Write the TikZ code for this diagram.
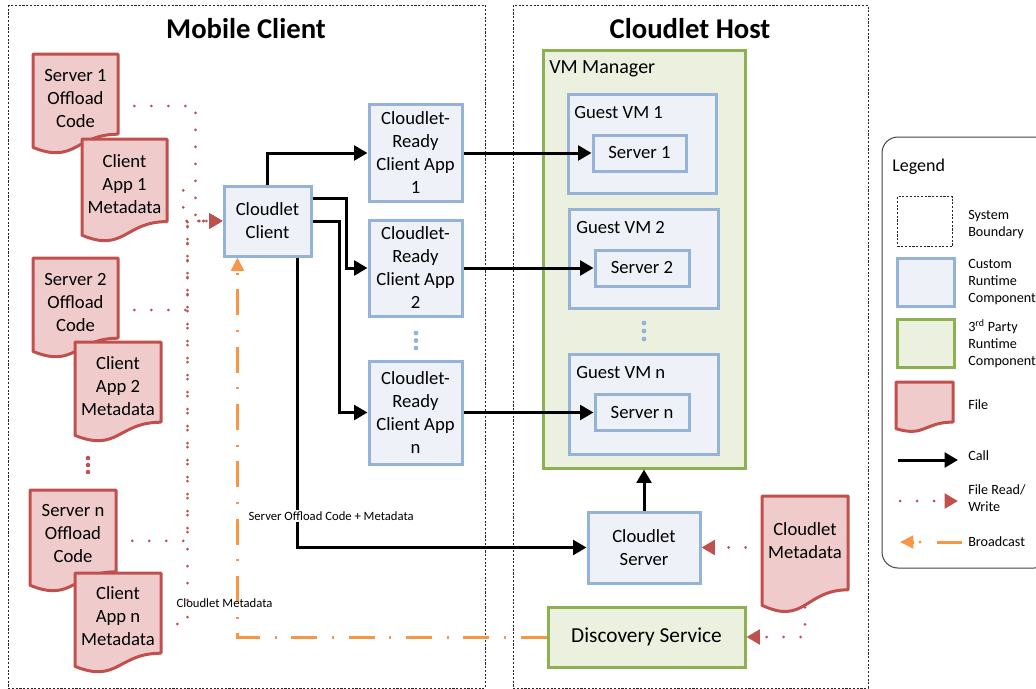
\documentclass[tikz,border=0pt]{standalone}
\usepackage{fontspec}
\setmainfont{Carlito}
\usetikzlibrary{arrows.meta,calc}
\definecolor{bborder}{HTML}{95B3D7}
\definecolor{bfill}{HTML}{EEF1F7}
\definecolor{gborder}{HTML}{8DB050}
\definecolor{gfill}{HTML}{EBF1DE}
\definecolor{rborder}{HTML}{C0504D}
\definecolor{rfill}{HTML}{EFCCCB}
\definecolor{orng}{HTML}{F79646}
% name, left, top, w, h, text fraction, text
\newcommand{\docfile}[7]{%
  \draw[filestyle] (#2,#3) -- (#2+#4,#3) -- (#2+#4,#3+0.802*#5)
    .. controls (#2+0.5*#4,#3+0.802*#5) and (#2+0.5*#4,#3+1.107*#5) .. (#2,#3+0.934*#5) -- cycle;
  \node[filetext, minimum width={#4*0.75pt}] (#1) at (#2+0.5*#4,#3+#6*#5) {#7};
}
\begin{document}
\begin{tikzpicture}[x=0.75pt,y=-0.75pt,
  bfont/.style={font=\fontsize{14}{17.25}\selectfont},
  sz/.style 2 args={minimum width={(#1-2)*0.75pt}, minimum height={(#2-2)*0.75pt}},
  custom/.style={draw=bborder, fill=bfill, line width=2.25pt, align=center, inner sep=0pt, bfont},
  third/.style={draw=gborder, fill=gfill, line width=2.25pt, align=center, inner sep=0pt, bfont},
  filestyle/.style={draw=rborder, fill=rfill, line width=2.25pt, line join=round},
  filetext/.style={align=center, inner sep=0pt, bfont},
  boundary/.style={draw=black!85, line width=0.6pt, dash pattern=on 1.6pt off 1.2pt},
  call/.style={draw=black, line width=2.25pt, -{Triangle[length=10pt,width=11pt]}},
  rw/.style={draw=rborder, line width=2.25pt, line cap=round, dash pattern=on 0pt off 12.75pt, -{Triangle[length=10pt,width=11pt]}},
  bcast/.style={draw=orng, line width=2.25pt, dash pattern=on 19.5pt off 11pt on 1.5pt off 11pt, -{Triangle[length=10pt,width=9.5pt]}},
  smallfont/.style={font=\fontsize{9.5}{11.5}\selectfont},
  legtext/.style={anchor=west, align=left, inner sep=0pt, font=\fontsize{10.6}{12.75}\selectfont},
  titlefont/.style={font=\fontsize{21.5}{25}\selectfont\bfseries}
]
\useasboundingbox (0,0) rectangle (1036,689);

% system boundaries
\draw[boundary] (8,5) rectangle (485,688);
\draw[boundary] (513,5) rectangle (868,688);
\node[titlefont] (t1) at (246,29) {Mobile Client};
\node[titlefont] (t2) at (690,29) {Cloudlet Host};

% mobile client components
\node[custom, sz={89}{72}] (cc) at (267.5,221) {Cloudlet\\Client};
\node[custom, sz={95}{99}] (cr1) at (415.5,153) {Cloudlet-\\Ready\\Client App\\1};
\node[custom, sz={95}{98}] (cr2) at (415.5,268) {Cloudlet-\\Ready\\Client App\\2};
\node[custom, sz={95}{105}] (crn) at (415.5,412.5) {Cloudlet-\\Ready\\Client App\\n};
\foreach \yy in {333,340.5,348} \fill[bborder] (416,\yy) circle (1.8pt);

% cloudlet host components
\node[third, sz={204}{420}] (vm) at (644,259) {};
\node[anchor=west, inner sep=0pt, font=\fontsize{15}{18}\selectfont] (vml) at (549,69) {VM Manager};
\node[custom, sz={150}{101}] (g1) at (642,143.5) {};
\node[anchor=west, inner sep=0pt, bfont] (g1l) at (574,113) {Guest VM 1};
\node[custom, sz={95}{38}] (s1) at (639.5,153) {Server 1};
\node[custom, sz={151}{101}] (g2) at (643.5,258.5) {};
\node[anchor=west, inner sep=0pt, bfont] (g2l) at (576,228) {Guest VM 2};
\node[custom, sz={96}{38}] (s2) at (642,268) {Server 2};
\foreach \yy in {323,331,339} \fill[bborder] (644,\yy) circle (1.8pt);
\node[custom, sz={151}{102}] (gn) at (643.5,404) {};
\node[anchor=west, inner sep=0pt, bfont] (gnl) at (576,373) {Guest VM n};
\node[custom, sz={96}{38}] (sn) at (642,412.5) {Server n};
\node[custom, sz={114}{73}] (cs) at (644,547.5) {Cloudlet\\Server};
\node[third, sz={199}{62}, font=\fontsize{16}{19}\selectfont] (ds) at (646.5,637) {Discovery Service};

% files
\docfile{fS1}{33}{54}{85}{100}{0.45}{Server 1\\Offload\\Code}
\docfile{fC1}{82}{139}{85}{103}{0.44}{Client\\App 1\\Metadata}
\docfile{fS2}{33}{258}{85}{100}{0.45}{Server 2\\Offload\\Code}
\docfile{fC2}{75}{342}{86}{100}{0.44}{Client\\App 2\\Metadata}
\docfile{fSn}{30}{490}{86}{102}{0.43}{Server n\\Offload\\Code}
\docfile{fCn}{75}{573}{86}{100}{0.43}{Client\\App n\\Metadata}
\docfile{fCM}{762}{496}{86}{117}{0.38}{Cloudlet\\Metadata}
\foreach \yy in {458,465,472} \fill[rborder] (88,\yy) circle (1.7pt);

% file read/write
\draw[rw] ($(fS1.east)+(16,7)$) -| ($(cc.west)+(-27,0)$) -- (cc.west);
\draw[rw] ($(fC1.east)+(16,6)$) |- (cc.west);
\draw[rw] ($(fS2.east)+(16,7)$) -| ($(cc.west)+(-35,0)$) -- (cc.west);
\draw[rw] ($(fSn.east)+(16,7)$) -| ($(cc.west)+(-35,0)$) -- (cc.west);
\draw[rw] ($(fCn.east)+(16,8)$) -| ($(cc.west)+(-35,0)$) -- (cc.west);
\draw[rw] ($(fCM.west |- cs.east)+(-16,0)$) -- (cs.east);
\draw[rw] ($(fCM.center)+(0,67)$) |- (ds.east);

% calls
\draw[call] (cc.north) |- (cr1.west);
\draw[call] ($(cc.north east)+(0,14)$) -| ($(cr2.west)+(-21,0)$) -- (cr2.west);
\draw[call] (cc.east) -| ($(crn.west)+(-28,0)$) -- (crn.west);
\draw[call] ($(cc.south)+(29.5,0)$) |- (cs.west);
\draw[call] (cr1.east) -- (cr1.east -| s1.west);
\draw[call] (cr2.east) -- (cr2.east -| s2.west);
\draw[call] (crn.east) -- (crn.east -| sn.west);
\draw[call] (cs.north) -- (vm.south);

% broadcast
\draw[bcast] (ds.west) -| ($(cc.south west)+(15,0)$);

% labels
\node[anchor=west, fill=white, inner sep=1pt, smallfont] (lbl1) at (247,516) {Server Offload Code + Metadata};
\node[anchor=west, inner sep=1pt, smallfont] (lbl2) at (175,603) {Cloudlet Metadata};

% legend
\draw[black!75, line width=0.75pt, rounded corners=12pt] (882,137) rectangle (1050,568);
\node[anchor=west, inner sep=0pt, font=\fontsize{13.5}{16}\selectfont] (legt) at (892,167) {Legend};
\node[boundary, sz={57}{52}] (lg1) at (925,221.5) {};
\node[custom, sz={59}{50}] (lg2) at (925.5,282) {};
\node[third, sz={59}{50}] (lg3) at (925.5,343) {};
\docfile{lg4}{896}{382}{57}{50}{0.4}{}
\coordinate (lca) at (898,460); \coordinate (lcb) at (958,460);
\draw[call] (lca) -- (lcb);
\coordinate (lra) at (900,501); \coordinate (lrb) at (958,501);
\draw[rw] (lra) -- (lrb);
\coordinate (lba) at (937,542); \coordinate (lbb) at (962,542);
\draw[orng, line width=2.25pt] (lba) -- (lbb);
\fill[orng] (920,542) circle (1.2pt);
\coordinate (lbc) at (913,542); \coordinate (lbd) at (900,542);
\draw[orng, line width=2.25pt, -{Triangle[length=10pt,width=9.5pt]}] (lbc) -- (lbd);
\node[legtext] (lt1) at (968,224.5) {System\\Boundary};
\node[legtext] (lt2) at (968,282) {Custom\\Runtime\\Component};
\node[legtext] (lt3) at (968,344) {3\textsuperscript{rd} Party\\Runtime\\Component};
\node[legtext] (lt4) at (968,405) {File};
\node[legtext] (lt5) at (968,456) {Call};
\node[legtext] (lt6) at (968,498) {File Read/\\Write};
\node[legtext] (lt7) at (968,542) {Broadcast};
\end{tikzpicture}
\end{document}
